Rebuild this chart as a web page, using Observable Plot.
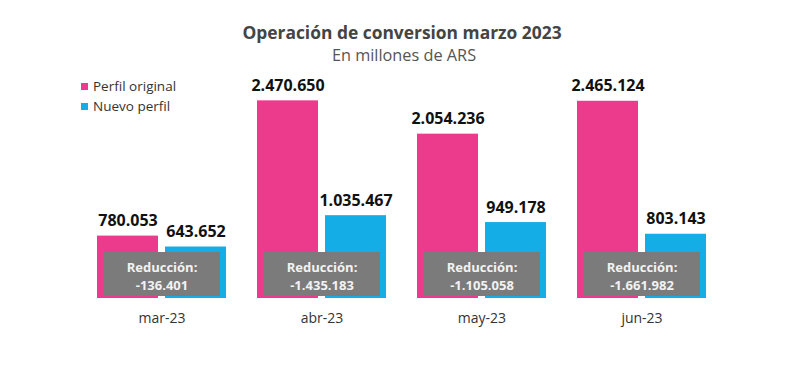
<!DOCTYPE html>
<html>
<head>
<meta charset="utf-8">
<script src="https://cdn.jsdelivr.net/npm/d3@7"></script>
<script src="https://cdn.jsdelivr.net/npm/@observablehq/plot@0.6"></script>
<style>
  html, body { margin: 0; padding: 0; background: #fff; }
  body { width: 800px; height: 374px; position: relative; overflow: hidden; font-family: "Open Sans", sans-serif; }
  #header { height: 62px; text-align: center; position: relative; }
  #title { position: absolute; left: 0; right: 0; top: 21.5px; font-size: 17.4px; font-weight: 700; color: #444; line-height: 20px; padding-left: 4px; }
  #subtitle { position: absolute; left: 0; right: 0; top: 45.5px; font-size: 16.3px; color: #555; line-height: 18px; padding-left: 8px; }
  #legend { position: absolute; left: 81px; top: 76px; font-size: 13.5px; color: #333; line-height: 20px; z-index: 2; }
  #legend .item { display: flex; align-items: center; height: 20px; }
  #legend .sw { width: 7px; height: 7px; margin-right: 5px; }
  #chart { position: absolute; left: 0; top: 62px; }
</style>
</head>
<body>
<div id="header">
  <div id="title">Operación de conversion marzo 2023</div>
  <div id="subtitle">En millones de ARS</div>
</div>
<div id="legend"></div>
<div id="chart"></div>
<script>
const months = ["mar-23", "abr-23", "may-23", "jun-23"];
const seriesNames = ["Perfil original", "Nuevo perfil"];
const seriesColors = ["#EC3B8D", "#14ADE6"];
const perfilOriginal = [780053, 2470650, 2054236, 2465124];
const nuevoPerfil = [643652, 1035467, 949178, 803143];
const reduccion = [-136401, -1435183, -1105058, -1661982];

const locale = d3.formatLocale({decimal: ",", thousands: ".", grouping: [3], currency: ["$", ""], minus: "-"});
const fmt = locale.format(",d");

const rows = [];
months.forEach((m, i) => {
  rows.push({month: m, series: seriesNames[0], value: perfilOriginal[i]});
  rows.push({month: m, series: seriesNames[1], value: nuevoPerfil[i]});
});
const boxes = months.map((m, i) => ({month: m, red: reduccion[i]}));

// legend
const legend = document.getElementById("legend");
seriesNames.forEach((s, i) => {
  const item = document.createElement("div");
  item.className = "item";
  item.innerHTML = `<span class="sw" style="background:${seriesColors[i]}"></span><span>${s}</span>`;
  legend.appendChild(item);
});

const chart = Plot.plot({
  width: 800,
  height: 312,
  marginTop: 28,
  marginBottom: 76,
  marginLeft: 82,
  marginRight: 78,
  style: {fontFamily: "'Open Sans', sans-serif", fontSize: "14px", color: "#333", background: "transparent"},
  fx: {domain: months, paddingInner: 0.18, paddingOuter: 0.09, label: null, axis: "bottom", tickSize: 0, tickPadding: 15},
  x: {domain: seriesNames, paddingInner: 0.1, paddingOuter: 0, axis: null},
  y: {domain: [0, 2600000], axis: null},
  color: {domain: seriesNames, range: seriesColors},
  marks: [
    Plot.barY(rows, {fx: "month", x: "series", y: "value", fill: "series"}),
    Plot.text(rows, {fx: "month", x: "series", y: "value", text: d => fmt(d.value), dy: -15, fontSize: 16, fontWeight: 700, fill: "#111"}),
    Plot.rect(boxes, {fx: "month", y1: 0, y2: 0, insetTop: -46, insetBottom: 2, insetLeft: 7, insetRight: 7, fill: "#7B7B7B"}),
    Plot.text(boxes, {fx: "month", frameAnchor: "bottom", text: d => `Reducción:\n${fmt(d.red)}`, lineAnchor: "middle", dy: -23, fontSize: 13, fontWeight: 700, lineHeight: 1.36, fill: "#F2F2F2"})
  ]
});
document.getElementById("chart").appendChild(chart);
</script>
</body>
</html>
